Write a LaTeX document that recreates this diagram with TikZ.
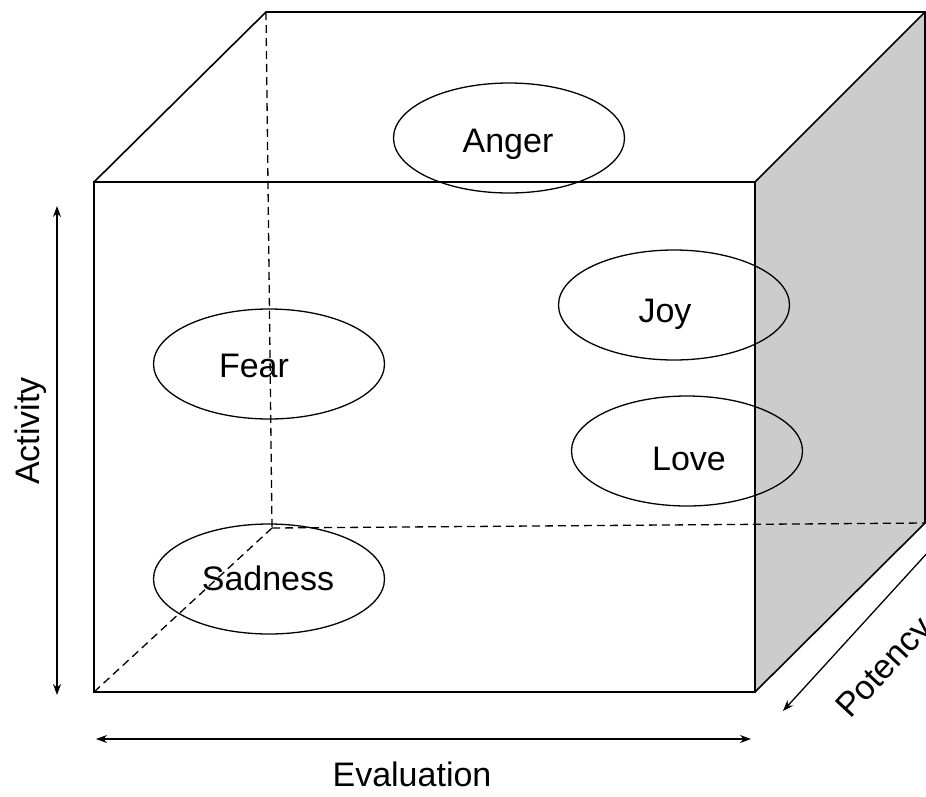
\documentclass[tikz,border=0pt]{standalone}
\usepackage{fontspec}
\setmainfont{Liberation Sans}
\usetikzlibrary{arrows.meta,shapes.geometric}
\definecolor{sideface}{HTML}{CCCCCC}
\begin{document}
\begin{tikzpicture}[x=1pt,y=-1pt,
  edge/.style={line width=1.6pt,line join=miter},
  hidden/.style={line width=1.3pt,dash pattern=on 8pt off 5pt},
  emotion/.style={draw,ellipse,line width=1.3pt,minimum width=231pt,minimum height=110pt,inner sep=0pt},
  word/.style={font=\fontsize{34}{40}\selectfont,inner sep=0pt,anchor=base},
  tip/.tip={Stealth[length=11pt,width=8pt]},
  axis/.style={line width=1.3pt,tip-tip},
  axisone/.style={line width=1.3pt,-tip}]
\useasboundingbox (0,0) rectangle (926,796);
\clip (0,0) rectangle (926,796);

% cube corners: front face and back face
\coordinate (F1) at (94,182);
\coordinate (F2) at (755,182);
\coordinate (F3) at (755,692);
\coordinate (F4) at (94,692);
\coordinate (B1) at (266,12);
\coordinate (B2) at (925,12);
\coordinate (B3) at (925,523);
\coordinate (B4) at (272,528);

% shaded right face
\fill[sideface] (F2) -- (B2) -- (B3) -- (F3) -- cycle;

% hidden edges
\draw[hidden] (B1) -- (B4);
\draw[hidden] (B4) -- (B3);
\draw[hidden] (F4) -- (B4);

% visible edges
\draw[edge] (F1) -- (F2) -- (F3) -- (F4) -- cycle;
\draw[edge] (F1) -- (B1) -- (B2) -- (F2);
\draw[edge] (B2) -- (B3) -- (F3);

% emotions
\node[emotion] (anger) at (509,138) {};
\node[emotion] (joy) at (674,305) {};
\node[emotion] (fear) at (269,364) {};
\node[emotion] (love) at (687,451) {};
\node[emotion] (sadness) at (269,579) {};

\node[word] (angerT) at (508,152) {Anger};
\node[word] (joyT) at (665,322) {Joy};
\node[word] (fearT) at (254,377) {Fear};
\node[word] (loveT) at (689,470) {Love};
\node[word] (sadnessT) at (268,590) {Sadness};

% axes
\coordinate (act1) at (57,206);
\coordinate (act2) at (57,695);
\draw[axis] (act1) -- (act2);
\node[word,rotate=90] (actT) at (39,431) {Activity};

\coordinate (ev1) at (96,739);
\coordinate (ev2) at (751,739);
\draw[axis] (ev1) -- (ev2);
\node[word] (evT) at (412,786) {Evaluation};

\coordinate (po1) at (940,539);
\coordinate (po2) at (783,711);
\draw[axisone] (po1) -- (po2);
\node[word,rotate=47] (poT) at (892,675) {Potency};
\end{tikzpicture}
\end{document}
